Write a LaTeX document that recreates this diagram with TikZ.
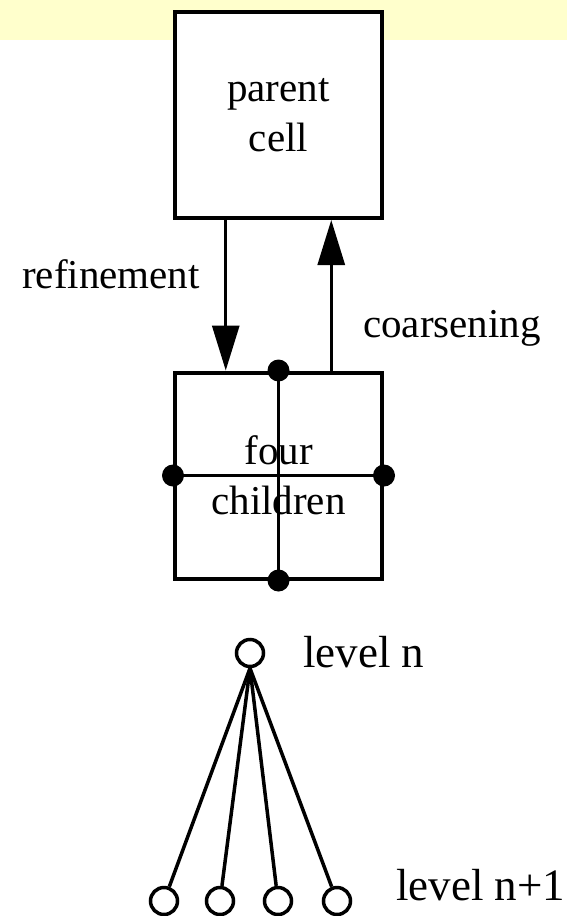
\documentclass[tikz,border=0pt]{standalone}
\usepackage{fontspec}
\setmainfont{Liberation Serif}
\usetikzlibrary{arrows.meta,calc}
\definecolor{bandyellow}{HTML}{FFFFCC}
\tikzset{
  cellbox/.style={draw, line width=4pt, minimum width=207pt, minimum height=206pt, align=center, inner sep=0pt, font=\fontsize{41}{50}\selectfont},
  lbl/.style={anchor=base west, inner sep=0pt, font=\fontsize{41}{50}\selectfont},
  biglbl/.style={lbl, font=\fontsize{45}{54}\selectfont},
  blob/.style={circle, fill=black, minimum size=22pt, inner sep=0pt},
  treenode/.style={circle, draw, line width=3.5pt, fill=white, minimum size=27pt, inner sep=0pt},
  conn/.style={line width=3.5pt},
  arr/.style={line width=3pt, -{Triangle[length=45pt,width=27pt]}}
}
\begin{document}
\begin{tikzpicture}[x=1pt,y=-1pt]
\useasboundingbox (0,0) rectangle (567,916);
\fill[bandyellow] (0,0) rectangle (567,40);
\node[cellbox, fill=white] (parent) at (278.5,115) {parent\\cell};
\node[cellbox] (child) at (278.5,475.5) {four\\children};
\draw[line width=3pt] (child.north) -- (child.south);
\draw[line width=3pt] (child.west) -- (child.east);
\node[blob] (dn) at (child.north) {};
\node[blob] (dw) at (child.west) {};
\node[blob] (de) at (child.east) {};
\node[blob] (ds) at (child.south) {};
\draw[arr] ($(parent.south west)!0.25!(parent.south east)$) -- ($(child.north west)!0.25!(child.north east)$);
\draw[arr] ($(child.north west)!0.75!(child.north east)$) -- ($(parent.south west)!0.75!(parent.south east)$);
\node[lbl] (lref) at (22,288) {refinement};
\node[lbl] (lcoa) at (363,337) {coarsening};
\node[treenode] (top) at (250,653) {};
\node[treenode] (c1) at (164,901) {};
\node[treenode] (c2) at (220,901) {};
\node[treenode] (c3) at (278,901) {};
\node[treenode] (c4) at (337,901) {};
\foreach \c in {c1,c2,c3,c4} \draw[conn] (top.south) -- (\c);
\node[biglbl] (ln) at (303,667) {level n};
\node[biglbl] (ln1) at (396,900) {level n+1};
\end{tikzpicture}
\end{document}
